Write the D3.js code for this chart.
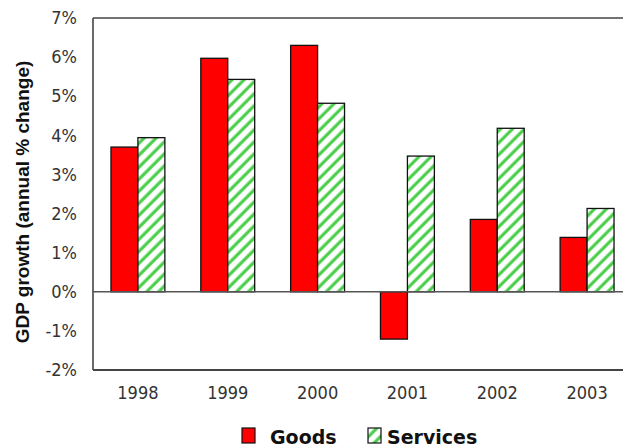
<!DOCTYPE html>
<html>
<head>
<meta charset="utf-8">
<script src="https://cdn.jsdelivr.net/npm/d3@7/dist/d3.min.js"></script>
<style>
  html, body { margin: 0; padding: 0; background: #fff; overflow: hidden; }
  svg { display: block; }
</style>
</head>
<body>
<svg id="chart" width="623" height="447"></svg>
<script>
// GDP growth by sector, annual % change
const years = ["1998", "1999", "2000", "2001", "2002", "2003"];
const goods = [3.7, 5.97, 6.3, -1.21, 1.85, 1.39];
const services = [3.94, 5.43, 4.82, 3.47, 4.18, 2.13];
const yTicks = [-2, -1, 0, 1, 2, 3, 4, 5, 6, 7];
const seriesNames = ["Goods", "Services"];

const svg = d3.select("#chart");
const W = 623, H = 447;
const plot = { left: 93, top: 18, right: 632, bottom: 370 };
const tickFont = "'DejaVu Sans Condensed', 'Liberation Sans', Arial, sans-serif";
const boldFont = "'Liberation Sans', Arial, sans-serif";

const x = d3.scaleBand().domain(years).range([plot.left, plot.right])
  .paddingInner(0.4).paddingOuter(0.2);
const xs = d3.scaleBand().domain(seriesNames).range([0, x.bandwidth()]);
const y = d3.scaleLinear().domain([-2, 7]).range([plot.bottom, plot.top]);

// Hatch fill for the services bars
const defs = svg.append("defs");
const pat = defs.append("pattern")
  .attr("id", "hatch")
  .attr("patternUnits", "userSpaceOnUse")
  .attr("width", 8.5).attr("height", 8.5)
  .attr("patternTransform", "rotate(45)");
pat.append("rect").attr("width", 8.5).attr("height", 8.5).attr("fill", "#fff");
pat.append("line")
  .attr("x1", 2).attr("y1", 0).attr("x2", 2).attr("y2", 8.5)
  .attr("stroke", "#55d455").attr("stroke-width", 3.2);
pat.append("line")
  .attr("x1", 2).attr("y1", 0).attr("x2", 2).attr("y2", 8.5)
  .attr("stroke", "#2fbf2f").attr("stroke-width", 1.2)
  .attr("stroke-dasharray", "1 1");

const fills = { Goods: "#ff0000", Services: "url(#hatch)" };

// Frame: top and left edges
svg.append("line")
  .attr("x1", plot.left).attr("x2", W).attr("y1", plot.top).attr("y2", plot.top)
  .attr("stroke", "#444").attr("stroke-width", 1.6);
svg.append("line")
  .attr("x1", plot.left).attr("x2", plot.left).attr("y1", plot.top).attr("y2", plot.bottom)
  .attr("stroke", "#444").attr("stroke-width", 1.6);

// Bars
const rows = years.map((yr, i) => ({ yr, vals: [
  { name: "Goods", v: goods[i] },
  { name: "Services", v: services[i] }
]}));

const g = svg.append("g");
g.selectAll("g.year").data(rows).join("g")
  .attr("class", "year")
  .attr("transform", d => `translate(${x(d.yr)},0)`)
  .selectAll("rect").data(d => d.vals).join("rect")
  .attr("x", d => xs(d.name))
  .attr("width", xs.bandwidth())
  .attr("y", d => y(Math.max(0, d.v)))
  .attr("height", d => Math.abs(y(d.v) - y(0)))
  .attr("fill", d => fills[d.name])
  .attr("stroke", "#111")
  .attr("stroke-width", 1.3);

// Zero line and bottom axis line
svg.append("line")
  .attr("x1", plot.left).attr("x2", W).attr("y1", y(0)).attr("y2", y(0))
  .attr("stroke", "#555").attr("stroke-width", 1.4);
svg.append("line")
  .attr("x1", plot.left).attr("x2", W).attr("y1", plot.bottom).attr("y2", plot.bottom)
  .attr("stroke", "#444").attr("stroke-width", 2.2);

// Y axis labels
const yAxis = d3.axisLeft(y).tickValues(yTicks).tickSize(0).tickPadding(16)
  .tickFormat(d => d + "%");
const ya = svg.append("g").attr("transform", `translate(${plot.left},0)`).call(yAxis);
ya.select(".domain").remove();
ya.selectAll("text")
  .attr("font-family", tickFont)
  .attr("font-size", 18).attr("fill", "#333");

// X axis labels
const xAxis = d3.axisBottom(x).tickSize(0).tickPadding(16);
const xa = svg.append("g").attr("transform", `translate(0,${plot.bottom})`).call(xAxis);
xa.select(".domain").remove();
xa.selectAll("text")
  .attr("font-family", tickFont)
  .attr("font-size", 18).attr("fill", "#333");

// Y axis title
svg.append("text")
  .attr("transform", `translate(29,202) rotate(-90)`)
  .attr("text-anchor", "middle")
  .attr("font-family", boldFont)
  .attr("font-weight", "bold").attr("font-size", 19).attr("fill", "#111")
  .text("GDP growth (annual % change)");

// Legend
const legend = svg.append("g").attr("transform", "translate(242,428)");
const items = [
  { name: "Goods", x: 0, tx: 28 },
  { name: "Services", x: 126, tx: 145 }
];
items.forEach(it => {
  legend.append("rect")
    .attr("x", it.x).attr("y", 0).attr("width", 13).attr("height", 15)
    .attr("fill", fills[it.name]).attr("stroke", "#111").attr("stroke-width", 1.2);
  legend.append("text")
    .attr("x", it.tx).attr("y", 16)
    .attr("font-family", "'DejaVu Sans', Verdana, sans-serif")
    .attr("font-weight", "bold").attr("font-size", 19).attr("fill", "#111")
    .text(it.name);
});
</script>
</body>
</html>
